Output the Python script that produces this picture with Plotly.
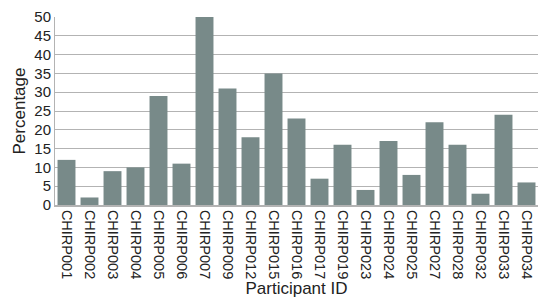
import plotly.graph_objects as go

participants = ['CHIRP001', 'CHIRP002', 'CHIRP003', 'CHIRP004', 'CHIRP005', 'CHIRP006',
                'CHIRP007', 'CHIRP009', 'CHIRP012', 'CHIRP015', 'CHIRP016', 'CHIRP017',
                'CHIRP019', 'CHIRP023', 'CHIRP024', 'CHIRP025', 'CHIRP027', 'CHIRP028',
                'CHIRP032', 'CHIRP033', 'CHIRP034']
percentages = [12, 2, 9, 10, 29, 11, 50, 31, 18, 35, 23, 7, 16, 4, 17, 8, 22, 16, 3, 24, 6]

fig = go.Figure(go.Bar(
    x=participants,
    y=percentages,
    marker=dict(color='#788a89', line=dict(width=0)),
))

# page body adds an 8px offset, so the figure is a bit smaller
fig.update_layout(
    width=542, height=299,
    margin=dict(l=47, r=12, t=9, b=102, autoexpand=False),
    plot_bgcolor='white', paper_bgcolor='white',
    font=dict(family='Liberation Sans, Arial, sans-serif', size=14, color='#222222'),
    bargap=0.22,
    showlegend=False,
    xaxis=dict(
        title=dict(text='Participant ID', font=dict(size=17), standoff=2),
        tickangle=90,
        tickfont=dict(size=14.5),
        showline=True, linecolor='#b3b3b3', linewidth=2,
        ticks='', showgrid=False, automargin=False,
    ),
    yaxis=dict(
        title=dict(text='Percentage', font=dict(size=17), standoff=4),
        range=[0, 50], dtick=5,
        tickfont=dict(size=15),
        showgrid=True, gridcolor='#b3b3b3', gridwidth=1,
        showline=True, linecolor='#b3b3b3', linewidth=1,
        zeroline=False, ticks='', automargin=False,
    ),
)

fig.write_html('out.html')
